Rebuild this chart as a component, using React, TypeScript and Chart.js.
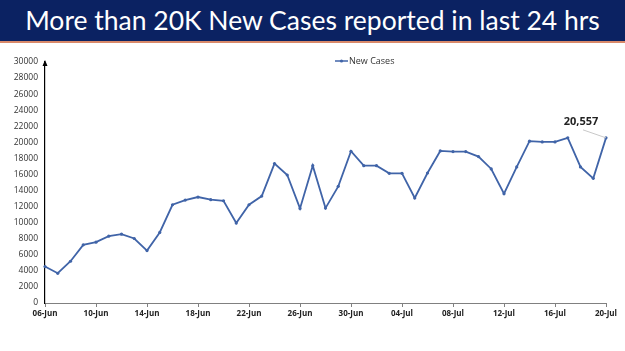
import React, { useEffect, useRef } from "react";
import { Chart, registerables } from "chart.js";

Chart.register(...registerables);

const titleText = "More than 20K New Cases reported in last 24 hrs";
const seriesName = "New Cases";
const dates = [
  "06-Jun", "07-Jun", "08-Jun", "09-Jun", "10-Jun", "11-Jun", "12-Jun", "13-Jun", "14-Jun", "15-Jun",
  "16-Jun", "17-Jun", "18-Jun", "19-Jun", "20-Jun", "21-Jun", "22-Jun", "23-Jun", "24-Jun", "25-Jun",
  "26-Jun", "27-Jun", "28-Jun", "29-Jun", "30-Jun", "01-Jul", "02-Jul", "03-Jul", "04-Jul", "05-Jul",
  "06-Jul", "07-Jul", "08-Jul", "09-Jul", "10-Jul", "11-Jul", "12-Jul", "13-Jul", "14-Jul", "15-Jul",
  "16-Jul", "17-Jul", "18-Jul", "19-Jul", "20-Jul",
];
const newCases = [
  4535, 3700, 5200, 7240, 7570, 8320, 8570, 8030, 6530, 8780,
  12230, 12815, 13190, 12860, 12730, 9950, 12230, 13310, 17350, 15935,
  11775, 17100, 11815, 14520, 18890, 17100, 17100, 16140, 16140, 13080,
  16185, 18930, 18850, 18850, 18225, 16685, 13605, 16935, 20140, 20055,
  20055, 20555, 16935, 15520, 20557,
];
const yMin = 0;
const yMax = 30000;
const yStep = 2000;
const labelEvery = 4;
const calloutText = "20,557";

const LINE_COLOR = "#4064a8";

export default function App() {
  const ref = useRef<HTMLCanvasElement>(null);

  useEffect(() => {
    document.body.style.margin = "0";
    const canvas = ref.current!;
    const overlay = {
      id: "overlay",
      afterDraw(chart: any) {
        const ctx = chart.ctx;
        const area = chart.chartArea;
        const yScale = chart.scales.y;
        ctx.save();
        ctx.fillStyle = "#000";
        const ax = area.left;
        const topY = yScale.getPixelForValue(yMax) + 1;
        ctx.beginPath();
        ctx.moveTo(ax, topY - 3);
        ctx.lineTo(ax - 2.5, topY + 3);
        ctx.lineTo(ax + 2.5, topY + 3);
        ctx.closePath();
        ctx.fill();

        const lx = 335;
        const ly = 61;
        ctx.strokeStyle = LINE_COLOR;
        ctx.lineWidth = 1.5;
        ctx.beginPath();
        ctx.moveTo(lx, ly);
        ctx.lineTo(lx + 13, ly);
        ctx.stroke();
        ctx.fillStyle = LINE_COLOR;
        ctx.beginPath();
        ctx.arc(lx + 6.5, ly, 1.6, 0, Math.PI * 2);
        ctx.fill();
        ctx.fillStyle = "#333";
        ctx.font = "9px 'Open Sans', sans-serif";
        ctx.textBaseline = "middle";
        ctx.textAlign = "left";
        ctx.fillText(seriesName, lx + 14, ly);

        const meta = chart.getDatasetMeta(0);
        const pt = meta.data[meta.data.length - 1];
        ctx.strokeStyle = "#c8c8c8";
        ctx.lineWidth = 1;
        ctx.beginPath();
        ctx.moveTo(pt.x - 23, pt.y - 8);
        ctx.lineTo(pt.x, pt.y);
        ctx.stroke();
        ctx.fillStyle = "#222";
        ctx.font = "bold 11px 'Open Sans', sans-serif";
        ctx.textAlign = "center";
        ctx.textBaseline = "middle";
        ctx.fillText(calloutText, pt.x - 25, pt.y - 16);
        ctx.restore();
      },
    };

    const chart = new Chart(canvas, {
      type: "line",
      data: {
        labels: dates,
        datasets: [
          {
            label: seriesName,
            data: newCases,
            borderColor: LINE_COLOR,
            backgroundColor: LINE_COLOR,
            borderWidth: 1.8,
            pointRadius: 1.6,
            pointBorderWidth: 0,
            tension: 0,
          },
        ],
      },
      options: {
        responsive: false,
        animation: false,
        layout: { padding: { top: 62, right: 19, left: 0, bottom: 0 } },
        plugins: { legend: { display: false }, tooltip: { enabled: false } },
        scales: {
          x: {
            grid: {
              display: true,
              drawOnChartArea: false,
              drawTicks: true,
              tickLength: 4,
              color: "#808080",
            },
            border: { display: true, color: "#808080", width: 1 },
            ticks: {
              autoSkip: false,
              maxRotation: 0,
              minRotation: 0,
              padding: 2,
              color: "#222",
              font: { size: 8, weight: "bold", family: "'Open Sans', sans-serif" },
              callback: (_v: any, i: number) => (i % labelEvery === 0 ? dates[i] : null),
            },
            afterFit: (s: any) => {
              s.height = 48;
            },
          },
          y: {
            min: yMin,
            max: yMax,
            grid: { display: false, drawTicks: false },
            border: { display: true, color: "#000", width: 1.2 },
            ticks: {
              stepSize: yStep,
              padding: 7,
              color: "#333",
              font: { size: 8.5, family: "'Open Sans', sans-serif" },
              callback: (v: any) => String(v),
            },
            afterFit: (s: any) => {
              s.width = 45;
            },
          },
        },
      },
      plugins: [overlay],
    });
    return () => chart.destroy();
  }, []);

  return (
    <div style={{ position: "relative", width: 625, height: 351, background: "#fff", overflow: "hidden" }}>
      <canvas ref={ref} width={625} height={351} style={{ position: "absolute", left: 0, top: 0 }} />
      <div
        style={{
          position: "absolute",
          left: 0,
          top: 0,
          width: 625,
          height: 41,
          background: "#0b2262",
          borderBottom: "2px solid #d9896a",
          color: "#fff",
          fontFamily: "Lato, 'Open Sans', sans-serif",
          fontSize: 26.5,
          lineHeight: "41px",
          textAlign: "center",
          whiteSpace: "nowrap",
        }}
      >
        {titleText}
      </div>
    </div>
  );
}
